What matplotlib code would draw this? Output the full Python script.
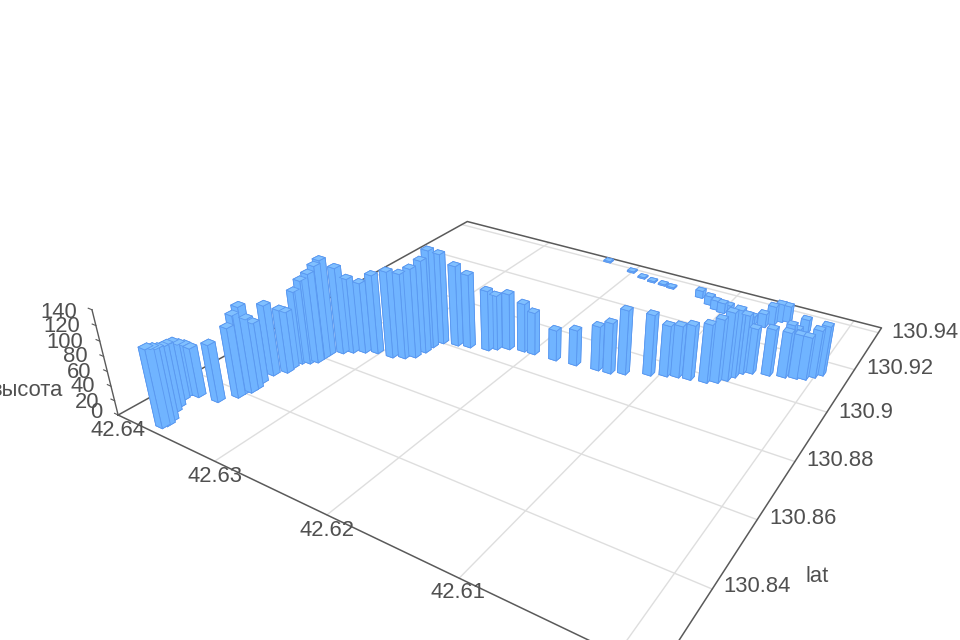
import numpy as np
import matplotlib
matplotlib.use('Agg')
import matplotlib.pyplot as plt

lon = [42.6363, 42.6362, 42.6364, 42.6371, 42.6374, 42.6379, 42.6380, 42.6379, 42.6373, 42.6356, 42.6348, 42.6348, 42.6345, 42.6345, 42.6348, 42.6349,
       42.6343, 42.6344, 42.6343, 42.6338, 42.6334, 42.6334, 42.6334, 42.6327, 42.6321, 42.6313, 42.6304, 42.6290, 42.6281, 42.6275, 42.6273, 42.6273,
       42.6270, 42.6258, 42.6248, 42.6233, 42.6228, 42.6220, 42.6208, 42.6199, 42.6180, 42.6163, 42.6145, 42.6135, 42.6125, 42.6108, 42.6097, 42.6089,
       42.6080, 42.6068, 42.6061, 42.6056, 42.6053, 42.6050, 42.6127, 42.6115, 42.6107, 42.6100, 42.6096, 42.6071, 42.6062, 42.6057, 42.6053, 42.6048,
       42.6044, 42.6032, 42.6021, 42.6013, 42.6007, 42.5998, 42.6002, 42.6035, 42.6029, 42.6031, 42.6230, 42.6201, 42.6187, 42.6176, 42.6165, 42.6156]
lat = [130.8227, 130.8237, 130.8251, 130.8276, 130.8293, 130.8316, 130.8332, 130.8343, 130.8344, 130.8353, 130.8388, 130.8406, 130.8417, 130.8431, 130.8454, 130.8492,
       130.8517, 130.8536, 130.8563, 130.8573, 130.8586, 130.8607, 130.8624, 130.8647, 130.8662, 130.8677, 130.8690, 130.8694, 130.8706, 130.8722, 130.8752, 130.8780,
       130.8808, 130.8818, 130.8826, 130.8838, 130.8852, 130.8868, 130.8878, 130.8880, 130.8883, 130.8889, 130.8897, 130.8900, 130.8914, 130.8940, 130.8956, 130.8966,
       130.8971, 130.8979, 130.8992, 130.9011, 130.9033, 130.9057, 130.9349, 130.9325, 130.9309, 130.9302, 130.9315, 130.9283, 130.9287, 130.9310, 130.9335, 130.9344,
       130.9069, 130.9081, 130.9092, 130.9101, 130.9108, 130.9145, 130.9127, 130.9261, 130.9314, 130.9270, 130.9410, 130.9387, 130.9370, 130.9363, 130.9361, 130.9357]
height = [105, 103, 98, 89, 86, 80, 73, 69, 68, 79, 96, 108, 118, 98, 85, 99,
          89, 81, 103, 118, 126, 132, 136, 123, 107, 101, 113, 123, 121, 127, 132, 140,
          130, 116, 106, 87, 79, 81, 70, 61, 44, 51, 63, 72, 91, 86, 72, 73,
          77, 82, 89, 96, 95, 83, 11, 13, 14, 15, 10, 13, 20, 28, 27, 24,
          64, 66, 64, 62, 60, 70, 67, 23, 20, 16, 2, 2, 2, 2, 2, 2]

lon_ticks = [42.64, 42.63, 42.62, 42.61, 42.60]
lat_ticks = [130.84, 130.86, 130.88, 130.90, 130.92, 130.94]
height_ticks = [0, 20, 40, 60, 80, 100, 120, 140]
lon_labels = ['42.64', '42.63', '42.62', '42.61']
lat_labels = ['130.94', '130.92', '130.9', '130.88', '130.86', '130.84']
height_labels = ['0', '20', '40', '60', '80', '100', '120', '140']

lon_lo, lon_hi = 42.59772, 42.64
lat_lo, lat_hi = 130.82004, 130.94279

txt = '#505050'
axis_col = '#5a5a5a'
grid_col = '#dedede'

fig = plt.figure(figsize=(9.6, 6.4), dpi=100)
ax = fig.add_axes([0, 0, 1, 1], projection='3d')
ax.view_init(elev=28.51475, azim=-57.37173)
ax.set_proj_type('persp', focal_length=0.2244)
ax.set_box_aspect((1, 0.99854, 0.2001))
ax.set_xlim(lon_hi, lon_lo)
ax.set_ylim(lat_lo, lat_hi)
ax.set_zlim(0, 140)
ax.set_axis_off()

# put the view box where the fit says, in pixels of the 960x640 figure
scale, tx, ty = 4233.9, 529.1, 319.8
vl = ax.viewLim
ax.set_position([(tx + scale * vl.x0) / 960, (640 - ty + scale * vl.y0) / 640,
                 scale * vl.width / 960, scale * vl.height / 640])


def line3(xs, ys, zs, col, lw):
    ax.plot(xs, ys, zs, color=col, lw=lw, clip_on=False, zorder=1)


for v in lon_ticks[1:]:
    line3([v, v], [lat_lo, lat_hi], [0, 0], grid_col, 1.0)
for v in lat_ticks:
    line3([lon_lo, lon_hi], [v, v], [0, 0], grid_col, 1.0)

line3([lon_hi, lon_hi, lon_lo, lon_lo, lon_hi], [lat_lo, lat_hi, lat_hi, lat_lo, lat_lo], [0, 0, 0, 0, 0], axis_col, 1.1)
line3([lon_hi, lon_hi], [lat_lo, lat_lo], [0, 140], axis_col, 1.0)
for v in height_ticks:
    line3([lon_hi, lon_hi + 0.0004], [lat_lo, lat_lo], [v, v], axis_col, 0.8)

dx, dy = 0.00068, 0.00195
face_cols = ['#74b7ff', '#80c0ff', '#70b4ff', '#78baff', '#70b4ff', '#78baff'] * len(lon)
ax.bar3d(np.array(lon) - dx / 2, np.array(lat) - dy / 2, np.zeros(len(lon)), dx, dy, height,
         color=face_cols, edgecolor='#5a98f0', linewidth=0.6, shade=False)


def label(px, py, s, ha='center', size=15.8):
    fig.text(px / 960, 1 - py / 640, s, ha=ha, va='center', color=txt, fontsize=size,
             family=['Liberation Sans', 'DejaVu Sans'])


lon_pos = [(118, 430), (215, 477), (327, 530), (458, 592)]
lat_pos = [(925, 333), (900, 369), (866, 412), (840, 461), (803, 518), (757, 587)]
height_pos = [(102, 413), (99, 402), (95, 387), (91, 372), (88, 357), (83, 343), (80, 327), (77, 312)]

for s, (px, py) in zip(lon_labels, lon_pos):
    label(px, py, s)
for s, (px, py) in zip(lat_labels, lat_pos):
    label(px, py, s)
for s, (px, py) in zip(height_labels, height_pos):
    label(px, py, s, ha='right')
label(817, 577, 'lat', size=15.8)
label(63, 390, 'высота', ha='right', size=15.8)

fig.savefig('out.png', dpi=100)
